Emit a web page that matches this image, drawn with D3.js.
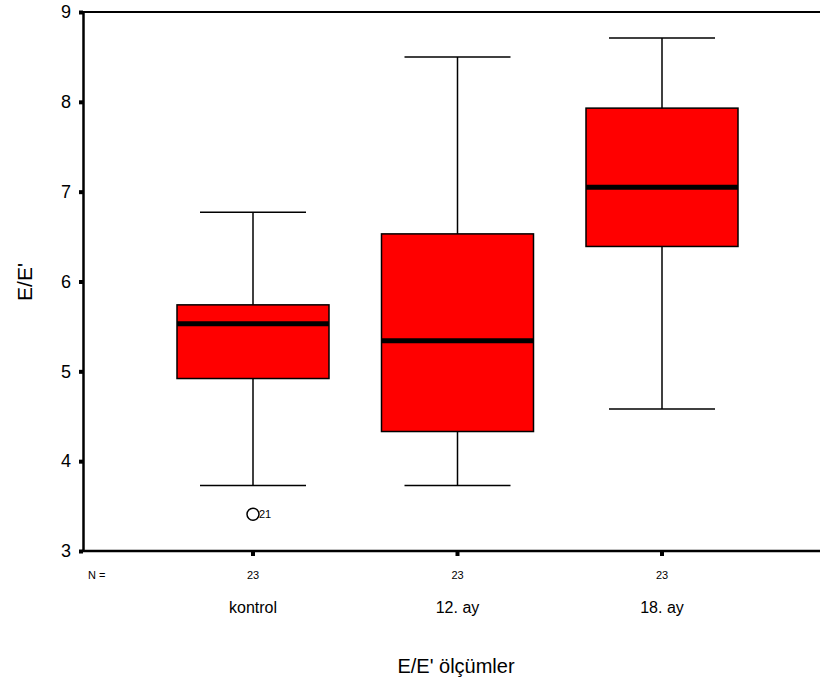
<!DOCTYPE html>
<html>
<head>
<meta charset="UTF-8">
<style>
  body { margin: 0; background: #fff; }
  svg { display: block; font-family: "Liberation Sans", Arial, sans-serif; }
</style>
<script src="https://d3js.org/d3.v7.min.js"></script>
</head>
<body>
<script>
// data
const categories = ["kontrol", "12. ay", "18. ay"];
const nValues = [23, 23, 23];
const whiskerLow = [3.73, 3.73, 4.58];
const q1 = [4.92, 4.33, 6.39];
const median = [5.53, 5.34, 7.05];
const q3 = [5.74, 6.53, 7.93];
const whiskerHigh = [6.77, 8.50, 8.71];
const outliers = [{ cat: "kontrol", value: 3.41, label: "21" }];
const yTicks = [3, 4, 5, 6, 7, 8, 9];

const width = 820, height = 687;
const plotLeft = 83, plotTop = 12, plotBottom = 551;

const svg = d3.select("body").append("svg")
  .attr("width", width)
  .attr("height", height);

const y = d3.scaleLinear().domain([3, 9]).range([plotBottom, plotTop]);
const x = d3.scalePoint().domain(categories).range([253, 662]);

const boxW = 152, capW = 106;

// top frame line
svg.append("line").attr("x1", plotLeft).attr("x2", width).attr("y1", plotTop).attr("y2", plotTop)
  .attr("stroke", "#000").attr("stroke-width", 2);

// y axis
const yAxis = svg.append("g").attr("transform", `translate(${plotLeft},0)`)
  .call(d3.axisLeft(y).tickValues(yTicks).tickSize(0).tickPadding(12).tickFormat(d3.format("d")));
yAxis.select(".domain").attr("stroke-width", 2.5);
yAxis.selectAll("text").attr("font-size", 18).attr("fill", "#000")
  .attr("font-family", "Liberation Sans, Arial, sans-serif");
yAxis.selectAll(".tick").append("rect")
  .attr("x", -4).attr("y", -2).attr("width", 4).attr("height", 4).attr("fill", "#000");

// x axis
const xAxis = svg.append("g").attr("transform", `translate(0,${plotBottom})`);
xAxis.append("line").attr("x1", plotLeft - 1).attr("x2", width).attr("stroke", "#000").attr("stroke-width", 2.5);
xAxis.selectAll("rect").data(categories).enter().append("rect")
  .attr("x", d => x(d) - 2).attr("y", 0).attr("width", 4).attr("height", 5).attr("fill", "#000");
xAxis.selectAll("text.n").data(categories).enter().append("text")
  .attr("class", "n")
  .attr("x", d => x(d)).attr("y", 28)
  .attr("text-anchor", "middle").attr("font-size", 11)
  .text((d, i) => nValues[i]);
xAxis.append("text").attr("x", 88).attr("y", 28).attr("font-size", 11).text("N =");
xAxis.selectAll("text.cat").data(categories).enter().append("text")
  .attr("class", "cat")
  .attr("x", d => x(d)).attr("y", 62)
  .attr("text-anchor", "middle").attr("font-size", 16)
  .text(d => d);

// boxes
const g = svg.selectAll("g.box").data(categories).enter().append("g").attr("class", "box");
g.append("line")
  .attr("x1", d => x(d)).attr("x2", d => x(d))
  .attr("y1", (d, i) => y(whiskerLow[i])).attr("y2", (d, i) => y(whiskerHigh[i]))
  .attr("stroke", "#000").attr("stroke-width", 1.5);
g.append("line")
  .attr("x1", d => x(d) - capW / 2).attr("x2", d => x(d) + capW / 2)
  .attr("y1", (d, i) => y(whiskerLow[i])).attr("y2", (d, i) => y(whiskerLow[i]))
  .attr("stroke", "#000").attr("stroke-width", 1.5);
g.append("line")
  .attr("x1", d => x(d) - capW / 2).attr("x2", d => x(d) + capW / 2)
  .attr("y1", (d, i) => y(whiskerHigh[i])).attr("y2", (d, i) => y(whiskerHigh[i]))
  .attr("stroke", "#000").attr("stroke-width", 1.5);
g.append("rect")
  .attr("x", d => x(d) - boxW / 2).attr("width", boxW)
  .attr("y", (d, i) => y(q3[i])).attr("height", (d, i) => y(q1[i]) - y(q3[i]))
  .attr("fill", "#ff0000").attr("stroke", "#000").attr("stroke-width", 1.5);
g.append("line")
  .attr("x1", d => x(d) - boxW / 2).attr("x2", d => x(d) + boxW / 2)
  .attr("y1", (d, i) => y(median[i])).attr("y2", (d, i) => y(median[i]))
  .attr("stroke", "#000").attr("stroke-width", 5);

// outliers
svg.selectAll("circle.out").data(outliers).enter().append("circle")
  .attr("class", "out")
  .attr("cx", d => x(d.cat)).attr("cy", d => y(d.value)).attr("r", 6)
  .attr("fill", "none").attr("stroke", "#000").attr("stroke-width", 1.5);
svg.selectAll("text.out").data(outliers).enter().append("text")
  .attr("class", "out")
  .attr("x", d => x(d.cat) + 6).attr("y", d => y(d.value) + 4)
  .attr("font-size", 11).text(d => d.label);

// titles
svg.append("text").attr("x", 456).attr("y", 673).attr("text-anchor", "middle")
  .attr("font-size", 20).text("E/E' ölçümler");
svg.append("text").attr("transform", "translate(32,282) rotate(-90)")
  .attr("text-anchor", "middle").attr("font-size", 21).text("E/E'");
</script>
</body>
</html>
